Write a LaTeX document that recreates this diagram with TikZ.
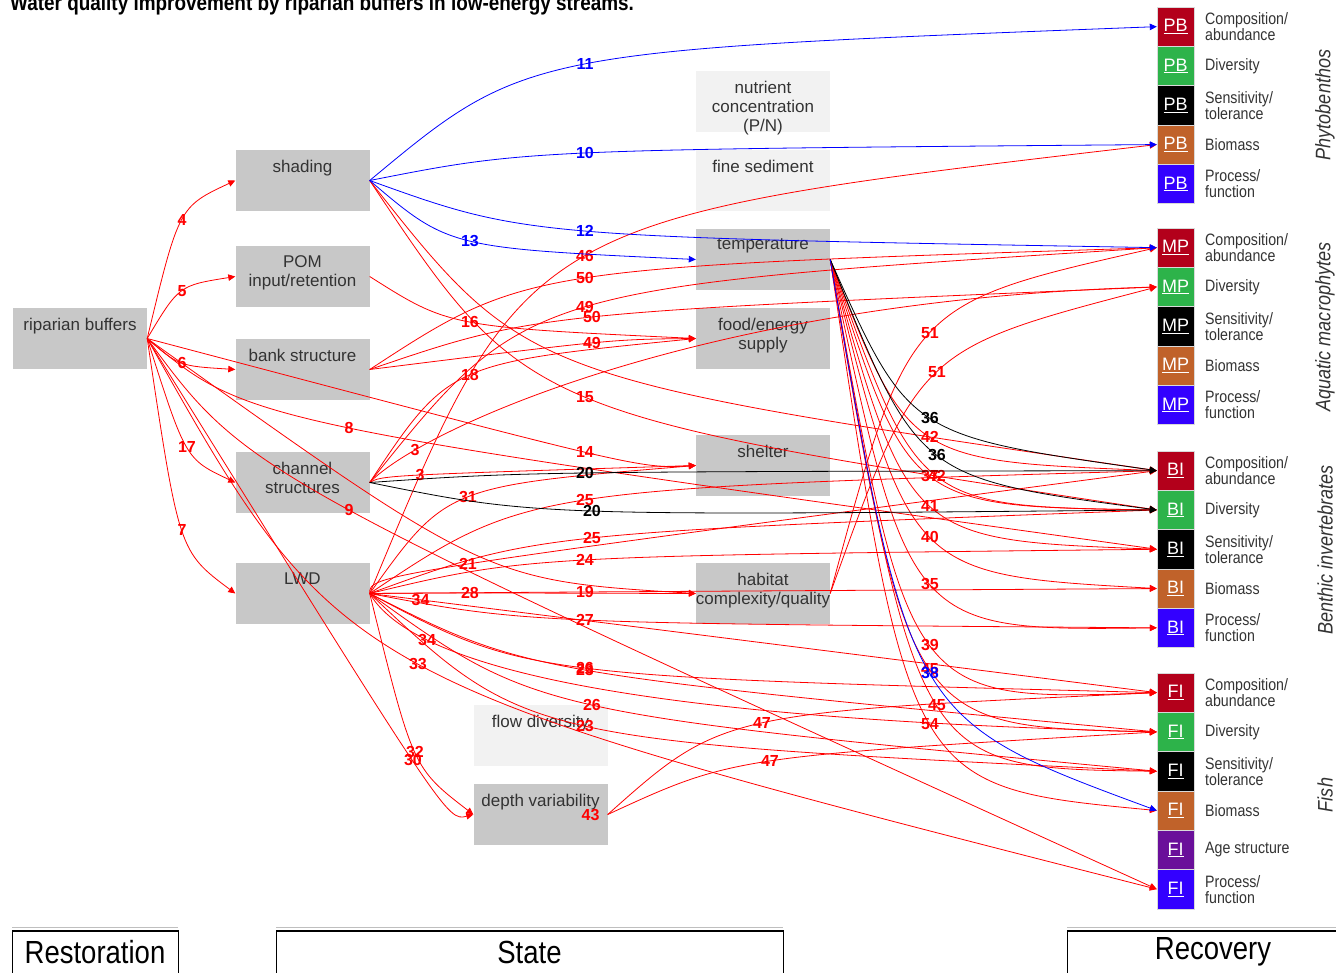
\documentclass[tikz,border=0pt]{standalone}
\usepackage{fontspec}
\setmainfont{Liberation Sans}
\newfontfamily\narrowsf[FakeStretch=0.86]{Liberation Sans}
\usetikzlibrary{calc,arrows.meta}

\definecolor{boxgray}{HTML}{C8C8C8}
\definecolor{boxlight}{HTML}{F2F2F2}
\definecolor{legred}{HTML}{B3001B}
\definecolor{leggreen}{HTML}{2DB34A}
\definecolor{legorange}{HTML}{C0622A}
\definecolor{legblue}{HTML}{3300FF}
\definecolor{legpurple}{HTML}{6A0F9A}
\definecolor{darktext}{HTML}{333333}

\newcommand{\rowC}{Composition/\\abundance}
\newcommand{\rowD}{Diversity}
\newcommand{\rowS}{Sensitivity/\\tolerance}
\newcommand{\rowB}{Biomass}
\newcommand{\rowA}{Age structure}
\newcommand{\rowP}{Process/\\function}

\begin{document}
\begin{tikzpicture}[x=1pt, y=-1pt, >={Triangle[length=7pt, width=6.5pt]},
  box/.style={fill=boxgray, minimum width=134pt, minimum height=61pt, inner sep=0pt},
  litebox/.style={box, fill=boxlight},
  boxtxt/.style={anchor=north, align=center, yshift=-7pt, inner sep=3pt, text=darktext,
    font=\fontsize{17}{19}\selectfont},
  legbox/.style={minimum width=37pt, minimum height=39.3pt, inner sep=0pt, text=white,
    draw=white!70!gray, line width=0.4pt, font=\fontsize{18}{18}\selectfont},
  legtxt/.style={anchor=west, align=left, inner sep=0pt, text=darktext,
    font=\narrowsf\fontsize{16.5}{16}\selectfont},
  grp/.style={rotate=90, text=darktext, font=\narrowsf\itshape\fontsize{21}{21}\selectfont},
  num/.style={inner sep=0pt, font=\bfseries\fontsize{16}{16}\selectfont},
  phase/.style={font=\narrowsf\fontsize{32}{32}\selectfont},
  rd/.style={->, red, line width=0.8pt},
  bl/.style={->, blue, line width=0.8pt},
  bk/.style={->, black, line width=0.8pt}]
  \useasboundingbox (0,0) rectangle (1336,972);
  \clip (0,0) rectangle (1336,972);

  % title, cut at the top
  \node[anchor=base west, inner sep=0pt, font=\narrowsf\bfseries\fontsize{22}{22}\selectfont]
    (title) at (10,10) {Water quality improvement by riparian buffers in low-energy streams.};

  % restoration boxes
  \node[box, label={[boxtxt]north:riparian buffers}] (rb) at (80,338.5) {};
  \node[box, label={[boxtxt]north:shading}] (shd) at (302.5,180.5) {};
  \node[box, label={[boxtxt]north:POM\\input/retention}] (pom) at (302.5,276.5) {};
  \node[box, label={[boxtxt]north:bank structure}] (bank) at (302.5,369.5) {};
  \node[box, label={[boxtxt]north:channel\\structures}] (chan) at (302.5,482.5) {};
  \node[box, label={[boxtxt]north:LWD}] (lwd) at (302.5,593.5) {};

  % state boxes
  \node[litebox, label={[boxtxt]north:nutrient\\concentration\\(P/N)}] (nut) at (763,101.5) {};
  \node[litebox, label={[boxtxt]north:fine sediment}] (fsed) at (763,180.5) {};
  \node[box, label={[boxtxt]north:temperature}] (temp) at (763,259.5) {};
  \node[box, label={[boxtxt]north:food/energy\\supply}] (food) at (763,338.5) {};
  \node[box, label={[boxtxt]north:shelter}] (shel) at (763,465.5) {};
  \node[box, label={[boxtxt]north:habitat\\complexity/quality}] (hab) at (763,593.5) {};
  \node[litebox, label={[boxtxt]north:flow diversity}] (flow) at (540.5,735.5) {};
  \node[box, label={[boxtxt]north:depth variability}] (depth) at (540.5,814.5) {};

  % recovery indicators
  \foreach \g/\ab/\top in {pb/PB/7, mp/MP/228, bi/BI/451}{
    \foreach \c/\r [count=\k] in {legred/C, leggreen/D, black/S, legorange/B, legblue/P}{
      \node[legbox, fill=\c] (\g\k) at (1175.5,\top+39.3*\k-19.65) {\underline{\ab}};
      \node[legtxt] (\g txt\k) at (1205,\top+39.3*\k-19.65) {\csname row\r\endcsname};
    }
  }
  \foreach \c/\r [count=\k] in {legred/C, leggreen/D, black/S, legorange/B, legpurple/A, legblue/P}{
    \node[legbox, fill=\c] (fi\k) at (1175.5,673+39.3*\k-19.65) {\underline{FI}};
    \node[legtxt] (fitxt\k) at (1205,673+39.3*\k-19.65) {\csname row\r\endcsname};
  }
  \node[grp] (gpb) at (1325,105) {Phytobenthos};
  \node[grp] (gmp) at (1325,327) {Aquatic macrophytes};
  \node[grp] (gbi) at (1325,550) {Benthic invertebrates};
  \node[grp] (gfi) at (1325,795) {Fish};

  % red links, bent through the point where their number sits
  \foreach \src/\tgt/\lx/\ly/\n in {
    rb.east/shd.west/182/220/4, rb.east/pom.west/182/291/5, rb.east/bank.west/182/363/6,
    rb.east/chan.west/187/447/17, rb.east/lwd.west/182/530/7, rb.east/bi3.west/349/428/8,
    rb.east/shel.west/585/452/14, rb.east/hab.west/470/552/{}, rb.east/fi6.west/349/510/9,
    rb.east/fi6.west/418/664/33, rb.east/depth.west/413/760/30,
    shd.east/bi1.west/585/365/{}, shd.east/bi2.west/585/397/15,
    pom.east/food.west/470/322/16,
    bank.east/mp1.west/585/278/50, bank.east/mp2.west/592/317/50, bank.east/food.west/592/343/49,
    chan.east/mp1.west/585/307/49, chan.east/food.west/470/375/18, chan.east/shel.west/420/475/3,
    lwd.east/pb4.west/585/256/46, lwd.east/shel.west/468/497/31,
    lwd.east/bi1.west/585/500/25, lwd.east/bi2.west/592/538/25, lwd.east/bi1.west/468/564/21,
    lwd.east/bi3.west/585/560/24, lwd.east/hab.west/470/593/28, lwd.east/bi4.west/585/592/19,
    lwd.east/bi5.west/585/620/27,
    lwd.east/fi1.west/585/668/26, lwd.east/fi2.west/585/670/23, lwd.east/fi3.west/592/705/26,
    lwd.east/fi3.west/585/726/23, lwd.east/depth.west/415/752/32,
    temp.east/bi1.west/930/437/42, temp.east/bi2.west/930/476/37, temp.east/bi2.west/937/476/42,
    temp.east/bi3.west/930/506/41, temp.east/bi4.west/930/537/40, temp.east/bi5.west/930/584/35,
    temp.east/fi1.west/930/645/39, temp.east/fi2.west/930/669/45, temp.east/fi3.west/937/705/45,
    temp.east/fi4.west/930/724/54,
    hab.east/mp1.west/930/333/51, hab.east/mp2.west/937/372/51,
    depth.east/fi1.west/762/723/47, depth.east/fi2.west/770/761/47}
    \draw[rd] (\src) .. controls ($1.3333*(\lx,\ly)-0.16667*(\src)-0.16667*(\tgt)$) .. (\tgt)
      node[num, pos=0.5] {\n};
  % red links numbered close to their start
  \foreach \src/\tgt/\ax/\ay/\bx/\by/\p/\n in {
    chan.east/mp2.west/420/430/700/300/0.17/3,
    lwd.east/fi1.west/630/626/900/660/0.065/34,
    lwd.east/fi2.west/420/680/700/720/0.2/34}
    \draw[rd] (\src) .. controls (\ax,\ay) and (\bx,\by) .. (\tgt) node[num, pos=\p] {\n};
  \node[num, red, anchor=east] (n43) at ([xshift=-8pt]depth.east) {43};

  % black links
  \foreach \src/\tgt/\lx/\ly/\n in {
    chan.east/bi1.west/585/473/20, chan.east/bi2.west/592/511/20,
    temp.east/bi1.west/930/418/36, temp.east/bi2.west/937/455/36}
    \draw[bk] (\src) .. controls ($1.3333*(\lx,\ly)-0.16667*(\src)-0.16667*(\tgt)$) .. (\tgt)
      node[num, pos=0.5] {\n};

  % blue links
  \foreach \src/\tgt/\lx/\ly/\n in {
    shd.east/pb1.west/585/64/11, shd.east/pb4.west/585/153/10, shd.east/mp1.west/585/231/12,
    shd.east/temp.west/470/241/13, temp.east/fi4.west/930/673/38}
    \draw[bl] (\src) .. controls ($1.3333*(\lx,\ly)-0.16667*(\src)-0.16667*(\tgt)$) .. (\tgt)
      node[num, pos=0.5] {\n};

  % phases
  \foreach \a/\b/\t/\nm in {12/178/Restoration/prest, 276/783/State/pstate, 1067/1359/Recovery/preco}{
    \draw[gray!50, line width=1pt] (\a,927) -- (\b,927);
    \draw[line width=1pt] (\a,990) -- (\a,930) -- (\b,930) -- (\b,990);
    \draw[line width=2.5pt] (\a,931) -- (\b,931);
    \node[phase] (\nm) at ({(\a+\b)/2},952) {\t};
  }
\end{tikzpicture}
\end{document}
